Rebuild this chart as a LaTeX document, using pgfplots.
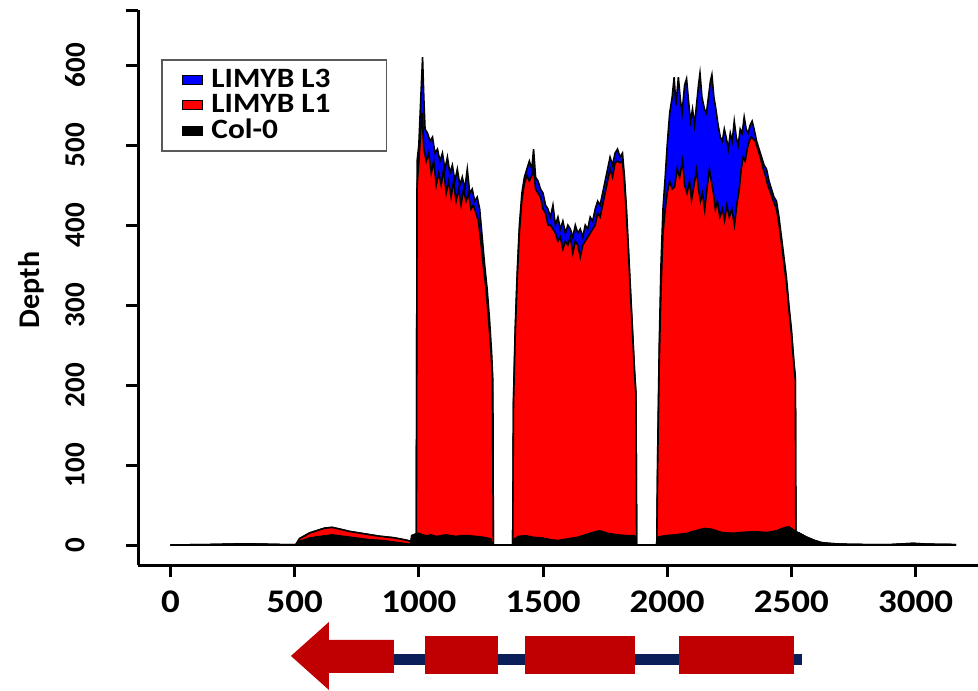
\documentclass[border=0pt]{standalone}
\usepackage{pgfplots}
\pgfplotsset{compat=1.18}
\usepackage{fontspec}
\setmainfont{Carlito}[FakeStretch=1.12]
\newfontfamily\yfont{Carlito}
\definecolor{covblue}{HTML}{0000FF}
\definecolor{covred}{HTML}{FF0000}
\definecolor{exonred}{HTML}{C00000}
\definecolor{intronblue}{HTML}{0A1E5A}

\begin{document}
\begin{tikzpicture}
\useasboundingbox (0,0) rectangle (489pt,345pt);
\begin{axis}[
  at={(69pt,62.5pt)}, anchor=south west,
  scale only axis, width=420pt, height=277.5pt,
  xmin=-130.8, xmax=3251.5, ymin=-25, ymax=669,
  axis lines=left, axis line style={-, line width=1.5pt},
  tick align=outside, major tick length=6pt,
  tick style={line width=1.5pt, black},
  xtick={0,500,...,3000}, ytick={0,100,...,600},
  extra y ticks={668.75}, extra y tick labels={},
  extra tick style={grid=none},
  clip=false,
  /pgf/number format/assume math mode=true,
  /pgf/number format/set thousands separator={},
  xticklabel style={font=\bfseries\fontsize{16.5}{18}\selectfont, anchor=center, yshift=-12.5pt},
  yticklabel style={font=\yfont\bfseries\fontsize{14.5}{16}\selectfont, rotate=90, anchor=center, yshift=25.5pt},
  ylabel={Depth},
  ylabel style={at={(rel axis cs:-0.1274,0.4955)}, anchor=center, rotate=0,
    font=\yfont\bfseries\fontsize{15}{17}\selectfont},
  legend cell align=left,
  legend image code/.code={%
    \path (-1pt,0pt) (13pt,0pt);
    \fill[#1, line width=0.3pt] (0pt,-2.25pt) rectangle (10pt,2.25pt);},
  legend style={at={(rel axis cs:0.0274,0.9117)}, anchor=north west,
    draw=black!65, line width=0.8pt, fill=white,
    font=\bfseries\fontsize{14}{11.5}\selectfont,
    inner xsep=9pt, inner ysep=3.5pt, nodes={inner sep=1pt},
    row sep=0pt},
]
% LIMYB L3
\addplot[fill=covblue, draw=black, line width=0.8pt] coordinates {
(0,0) (150,0.5) (300,1.5) (450,0.5) (505,0.5) (520,8) (560,15) (600,19) (620,21) (650,22) (680,20) (720,17) (780,14) (840,11) (900,9) (950,6) (975,4) (985,3) (990,12)
(993,480) (1000,500) (1008,560) (1015,610) (1020,560) (1025,520) (1035,515) (1045,505) (1055,510) (1065,490) (1075,495) (1085,480) (1095,490) (1105,470) (1115,485) (1125,465) (1135,475) (1145,455) (1155,470) (1165,450) (1175,460) (1185,445) (1195,470) (1205,440) (1215,445) (1225,430) (1235,435) (1245,420) (1255,385) (1265,350) (1275,320) (1285,280) (1293,240) (1298,205) (1300,0)
(1378,0) (1381,180) (1388,270) (1396,340) (1405,400) (1415,440) (1425,460) (1435,470) (1445,480) (1455,470) (1462,495) (1470,460) (1480,455) (1490,445) (1500,440) (1510,425) (1520,420) (1530,410) (1540,425) (1550,400) (1560,410) (1570,395) (1580,405) (1590,390) (1600,400) (1610,395) (1620,385) (1630,400) (1640,390) (1650,395) (1660,385) (1670,400) (1680,395) (1690,410) (1700,405) (1710,420) (1720,430) (1730,425) (1740,440) (1750,455) (1760,470) (1770,485) (1780,475) (1790,490) (1800,495) (1810,485) (1820,490) (1828,460) (1836,420) (1844,370) (1852,320) (1860,270) (1868,220) (1874,190) (1877,0)
(1958,0) (1962,120) (1968,250) (1975,350) (1983,420) (1992,460) (2000,500) (2010,540) (2020,560) (2028,585) (2035,550) (2045,585) (2052,560) (2060,540) (2070,575) (2078,583) (2086,555) (2094,530) (2102,545) (2110,525) (2118,550) (2126,575) (2132,590) (2140,560) (2150,545) (2158,540) (2166,560) (2174,580) (2180,588) (2188,560) (2196,545) (2205,525) (2214,510) (2222,505) (2230,520) (2238,509) (2246,495) (2254,515) (2262,505) (2270,530) (2278,510) (2286,500) (2294,520) (2302,515) (2310,535) (2318,520) (2326,515) (2334,525) (2342,530) (2350,520) (2360,505) (2370,495) (2380,485) (2390,475) (2400,470) (2410,455) (2420,445) (2430,435) (2440,430) (2450,410) (2460,385) (2470,360) (2480,335) (2490,300) (2500,270) (2510,230) (2516,210)
(2518,16) (2530,15) (2560,10) (2590,6) (2620,3) (2650,2) (2700,1) (2800,0.5) (2900,0.5) (2990,2) (3050,1) (3160,0.5) (3160,0)
} -- cycle;
\addlegendentry{\makebox[77.5pt][l]{LIMYB L3}}
% LIMYB L1
\addplot[fill=covred, draw=black, line width=0.8pt] coordinates {
(0,0) (150,0.5) (300,1.5) (450,0.5) (505,0.5) (520,8) (560,15) (600,19) (620,21) (650,22) (680,20) (720,17) (780,14) (840,11) (900,9) (950,6) (975,4) (985,3) (990,12)
(993,450) (1000,480) (1008,520) (1013,540) (1020,495) (1030,480) (1040,490) (1050,465) (1060,480) (1070,450) (1080,465) (1090,450) (1100,470) (1110,440) (1120,455) (1130,435) (1140,455) (1150,430) (1160,445) (1170,425) (1180,445) (1190,430) (1200,440) (1210,420) (1220,425) (1230,415) (1240,405) (1250,378) (1260,348) (1270,322) (1280,285) (1290,245) (1296,210) (1300,0)
(1378,0) (1381,175) (1388,262) (1396,332) (1405,392) (1415,432) (1425,452) (1435,462) (1445,455) (1455,462) (1462,470) (1470,445) (1480,440) (1490,435) (1500,420) (1510,415) (1520,400) (1530,400) (1540,395) (1550,390) (1560,380) (1570,385) (1580,370) (1590,380) (1600,375) (1610,385) (1620,365) (1630,380) (1640,375) (1650,360) (1660,375) (1670,380) (1680,385) (1690,390) (1700,395) (1710,400) (1720,415) (1730,410) (1740,425) (1750,440) (1760,455) (1770,470) (1780,460) (1790,478) (1800,480) (1810,478) (1820,480) (1828,452) (1836,412) (1844,365) (1852,315) (1860,268) (1868,218) (1874,188) (1877,0)
(1958,0) (1962,110) (1968,230) (1975,320) (1983,390) (1992,420) (2000,440) (2010,455) (2020,445) (2030,448) (2040,470) (2050,460) (2062,481) (2070,450) (2080,440) (2090,455) (2098,431) (2108,450) (2118,469) (2126,445) (2134,430) (2142,440) (2151,419) (2160,445) (2170,470) (2178,455) (2186,440) (2194,420) (2202,430) (2212,410) (2222,420) (2231,406) (2240,425) (2250,410) (2260,420) (2271,400) (2280,425) (2290,445) (2298,470) (2306,485) (2314,480) (2322,495) (2330,505) (2338,510) (2346,508) (2355,505) (2365,495) (2375,485) (2385,472) (2395,462) (2405,450) (2419,438) (2430,428) (2440,420) (2450,402) (2460,378) (2470,353) (2480,328) (2490,295) (2500,265) (2510,226) (2516,206)
(2518,16) (2530,15) (2560,10) (2590,6) (2620,3) (2650,2) (2700,1) (2800,0.5) (2900,0.5) (2990,2) (3050,1) (3160,0.5) (3160,0)
} -- cycle;
\addlegendentry{\makebox[77.5pt][l]{LIMYB L1}}
% Col-0
\addplot[fill=black, draw=black, line width=0.5pt] coordinates {
(0,0) (150,0.5) (300,1.5) (450,0.5) (505,0.5) (520,5) (560,9) (600,11) (650,13) (700,11) (750,9) (800,7) (850,6) (900,4) (950,2) (965,1)
(970,12) (985,14) (1000,15) (1015,13) (1030,12) (1050,13) (1070,11) (1090,12) (1110,13) (1130,12) (1150,11) (1170,12) (1200,12) (1230,11) (1260,10) (1290,8) (1300,0)
(1378,0) (1385,8) (1400,11) (1430,12) (1460,10) (1500,9) (1530,7) (1560,6) (1600,8) (1640,10) (1680,14) (1710,17) (1730,18) (1760,15) (1800,13) (1840,12) (1870,12) (1877,0)
(1958,0) (1962,10) (1990,12) (2030,13) (2080,15) (2100,17) (2150,21) (2180,20) (2220,16) (2260,15) (2300,16) (2350,17) (2400,16) (2440,18) (2470,22) (2490,23) (2510,19) (2530,15) (2560,10) (2590,6) (2620,3) (2650,2) (2700,1) (2800,0.5) (2900,0.5) (2990,2) (3050,1) (3160,0.5) (3160,0)
} -- cycle;
\addlegendentry{\makebox[77.5pt][l]{Col-0}}

% gene model: intron line, exons, 5' arrow
\addplot[forget plot, draw=none, fill=intronblue] coordinates {
(899,-136.25) (2541,-136.25) (2541,-150) (899,-150)} -- cycle;
\addplot[forget plot, draw=none, fill=exonred] coordinates {
(485,-138.75) (638,-96.25) (638,-118.75) (899,-118.75) (899,-160) (638,-160) (638,-181.25)} -- cycle;
\addplot[forget plot, draw=none, fill=exonred] coordinates {
(1024,-113.75) (1318,-113.75) (1318,-161.25) (1024,-161.25)} -- cycle;
\addplot[forget plot, draw=none, fill=exonred] coordinates {
(1427,-113.75) (1869,-113.75) (1869,-161.25) (1427,-161.25)} -- cycle;
\addplot[forget plot, draw=none, fill=exonred] coordinates {
(2046,-113.75) (2509,-113.75) (2509,-161.25) (2046,-161.25)} -- cycle;
\end{axis}
\end{tikzpicture}
\end{document}
